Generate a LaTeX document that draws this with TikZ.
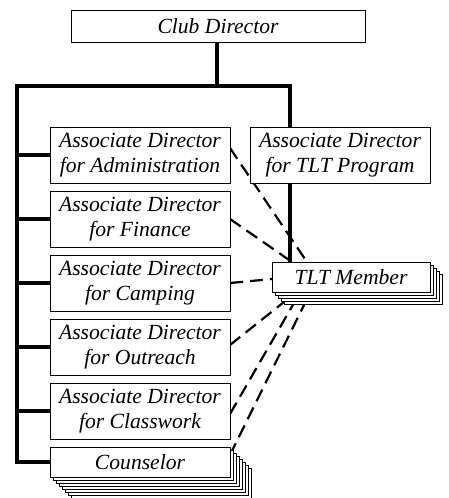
\documentclass[tikz,border=0pt]{standalone}
\usepackage{fontspec}
\setmainfont{Liberation Serif}
\usetikzlibrary{calc}
\begin{document}
\begin{tikzpicture}[x=1pt,y=-1pt,
  box/.style={draw,fill=white,line width=1pt,align=center,inner sep=0pt,
    font=\fontsize{21.6}{25}\selectfont\itshape},
  adbox/.style={box,minimum width=180pt,minimum height=56pt},
  onebox/.style={box,minimum height=30pt},
  thick line/.style={line width=4.8pt},
  dash line/.style={line width=2.2pt,dash pattern=on 13pt off 7pt}]
\useasboundingbox (0,0) rectangle (448,498);
% thick tree lines
\coordinate (top) at (217,86);
\coordinate (lt) at (17,86);
\coordinate (rt) at (290,86);
\draw[thick line] (217,42) -- (top);
\draw[thick line,line cap=rect] (lt) -- (rt);
\draw[thick line] (lt) -- (17,464);
\draw[thick line] (rt) -- (290,262);
\foreach \y in {155,219,283,347,411,462}
  \draw[thick line] (17,\y) -- (50,\y);
% dashed lines
\draw[dash line] (230,148) -- (307,262);
\draw[dash line] (230,219) -- (292,262);
\draw[dash line] (230,283) -- (272,279);
\draw[dash line] (230,345) -- (284,302);
\draw[dash line] (230,414) -- (294,303);
\draw[dash line] (230,455) -- (305,303);
% nodes
\node[box,minimum width=294pt,minimum height=32pt] (club) at (218,26) {Club Director};
\node[adbox] (admin) at (140,155) {Associate Director\\for Administration};
\node[adbox] (prog) at (340,155) {Associate Director\\for TLT Program};
\node[adbox] (fin) at (140,219) {Associate Director\\for Finance};
\node[adbox] (camp) at (140,283) {Associate Director\\for Camping};
\node[adbox] (out) at (140,347) {Associate Director\\for Outreach};
\node[adbox] (cls) at (140,411) {Associate Director\\for Classwork};
% TLT member stack
\foreach \i in {4,3,2,1}
  \draw[fill=white,line width=1pt] (272+3*\i,262+3*\i) rectangle (430+3*\i,292+3*\i);
\node[onebox,minimum width=158pt] (tlt) at (351,277) {TLT Member};
% Counselor stack
\foreach \i in {7,6,5,4,3,2,1}
  \draw[fill=white,line width=1pt] (50+3*\i,447+3*\i) rectangle (230+3*\i,477+3*\i);
\node[onebox,minimum width=180pt] (couns) at (140,462) {Counselor};
\end{tikzpicture}
\end{document}
